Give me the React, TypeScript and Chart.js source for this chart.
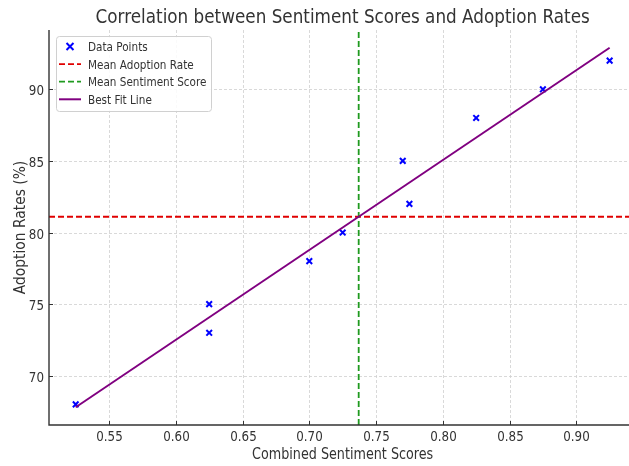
import React, { useEffect, useRef } from "react";
import { Chart, registerables } from "chart.js";

Chart.register(...registerables);

const sentimentScores = [0.525, 0.625, 0.625, 0.7, 0.725, 0.77, 0.775, 0.825, 0.875, 0.925];
const adoptionRates = [68, 75, 73, 78, 80, 85, 82, 88, 90, 92];
const meanAdoption = 81.1;
const meanSentiment = 0.737;
const fitX = [0.525, 0.925];
const fitY = [67.8, 92.9];
const xTicks = [0.55, 0.6, 0.65, 0.7, 0.75, 0.8, 0.85, 0.9];
const yTicks = [70, 75, 80, 85, 90];
const xRange = [0.505, 0.9395];
const yRange = [66.56, 94.14];

const TITLE = "Correlation between Sentiment Scores and Adoption Rates";
const X_LABEL = "Combined Sentiment Scores";
const Y_LABEL = "Adoption Rates (%)";

const TEXT = "#333333";
const FONT = '"DejaVu Sans", sans-serif';
const SX = 0.85;

function drawText(
  ctx: CanvasRenderingContext2D,
  text: string,
  x: number,
  y: number,
  size: number,
  align: CanvasTextAlign,
  rotate = 0
) {
  ctx.save();
  ctx.translate(x, y);
  if (rotate) ctx.rotate(rotate);
  ctx.scale(SX, 1);
  ctx.font = `${size}px ${FONT}`;
  ctx.textAlign = align;
  ctx.textBaseline = "alphabetic";
  ctx.fillStyle = TEXT;
  ctx.fillText(text, 0, 0);
  ctx.restore();
}

const decorPlugin = {
  id: "decor",
  beforeDatasetsDraw(chart: any) {
    const { ctx, chartArea } = chart;
    const xs = chart.scales.x;
    const ys = chart.scales.y;
    ctx.save();
    ctx.strokeStyle = "#cfcfcf";
    ctx.lineWidth = 0.8;
    ctx.setLineDash([3, 2]);
    xTicks.forEach((v) => {
      const px = Math.round(xs.getPixelForValue(v)) + 0.5;
      ctx.beginPath();
      ctx.moveTo(px, chartArea.top);
      ctx.lineTo(px, chartArea.bottom);
      ctx.stroke();
    });
    yTicks.forEach((v) => {
      const py = Math.round(ys.getPixelForValue(v)) + 0.5;
      ctx.beginPath();
      ctx.moveTo(chartArea.left, py);
      ctx.lineTo(chartArea.right, py);
      ctx.stroke();
    });
    ctx.restore();
  },
  afterDatasetsDraw(chart: any) {
    const { ctx, chartArea } = chart;
    const xs = chart.scales.x;
    const ys = chart.scales.y;
    ctx.save();
    // spines
    ctx.strokeStyle = "#333333";
    ctx.lineWidth = 1.4;
    ctx.setLineDash([]);
    ctx.beginPath();
    ctx.moveTo(chartArea.left, chartArea.top);
    ctx.lineTo(chartArea.left, chartArea.bottom);
    ctx.lineTo(chartArea.right, chartArea.bottom);
    ctx.stroke();
    // inward ticks
    ctx.lineWidth = 1;
    xTicks.forEach((v) => {
      const px = Math.round(xs.getPixelForValue(v)) + 0.5;
      ctx.beginPath();
      ctx.moveTo(px, chartArea.bottom);
      ctx.lineTo(px, chartArea.bottom - 4);
      ctx.stroke();
      drawText(ctx, v.toFixed(2), px, chartArea.bottom + 16, 14, "center");
    });
    yTicks.forEach((v) => {
      const py = Math.round(ys.getPixelForValue(v)) + 0.5;
      ctx.beginPath();
      ctx.moveTo(chartArea.left, py);
      ctx.lineTo(chartArea.left + 4, py);
      ctx.stroke();
      drawText(ctx, String(v), chartArea.left - 5, py + 5, 14, "right");
    });
    ctx.restore();

    // titles
    const cx = xs.getPixelForValue((xRange[0] + 0.945) / 2);
    drawText(ctx, TITLE, cx, 22.7, 19.8, "center");
    drawText(ctx, X_LABEL, cx, chartArea.bottom + 33.5, 15, "center");
    drawText(ctx, Y_LABEL, 25, (chartArea.top + chartArea.bottom) / 2, 16.3, "center", -Math.PI / 2);

    // legend
    const lx = chartArea.left + 7;
    const ly = chartArea.top + 6;
    const lw = 155;
    const lh = 75;
    ctx.save();
    ctx.fillStyle = "rgba(255,255,255,0.85)";
    ctx.strokeStyle = "#d0d0d0";
    ctx.lineWidth = 1;
    ctx.beginPath();
    (ctx as any).roundRect(lx + 0.5, ly + 0.5, lw, lh, 3);
    ctx.fill();
    ctx.stroke();
    const dsList = chart.data.datasets;
    const rowOrder = ["Data Points", "Mean Adoption Rate", "Mean Sentiment Score", "Best Fit Line"];
    rowOrder.forEach((label, i) => {
      const ds = dsList.find((d: any) => d.label === label);
      const rowY = ly + 10.5 + i * 17.6;
      const hx0 = lx + 3;
      const hx1 = lx + 25;
      if (ds.type === "scatter") {
        const mx = (hx0 + hx1) / 2;
        const r = 3.5;
        ctx.strokeStyle = ds.borderColor;
        ctx.lineWidth = 2;
        ctx.setLineDash([]);
        ctx.beginPath();
        ctx.moveTo(mx - r, rowY - r);
        ctx.lineTo(mx + r, rowY + r);
        ctx.moveTo(mx - r, rowY + r);
        ctx.lineTo(mx + r, rowY - r);
        ctx.stroke();
      } else {
        ctx.strokeStyle = ds.borderColor;
        ctx.lineWidth = ds.borderWidth;
        ctx.setLineDash(ds.borderDash || []);
        ctx.beginPath();
        ctx.moveTo(hx0, rowY);
        ctx.lineTo(hx1, rowY);
        ctx.stroke();
      }
      ctx.setLineDash([]);
      drawText(ctx, label, lx + 32, rowY + 4.5, 12.3, "left");
    });
    ctx.restore();
  },
};

export default function App() {
  const canvasRef = useRef<HTMLCanvasElement | null>(null);

  useEffect(() => {
    if (!canvasRef.current) return;
    const scatterData = sentimentScores.map((x, i) => ({ x, y: adoptionRates[i] }));
    const fitData = fitX.map((x, i) => ({ x, y: fitY[i] }));
    const chart = new Chart(canvasRef.current, {
      type: "scatter",
      data: {
        datasets: [
          {
            type: "line",
            label: "Best Fit Line",
            data: fitData,
            borderColor: "#800080",
            borderWidth: 2,
            pointRadius: 0,
            fill: false,
            order: 0,
          } as any,
          {
            type: "line",
            label: "Mean Sentiment Score",
            data: [
              { x: meanSentiment, y: yRange[0] },
              { x: meanSentiment, y: yRange[1] },
            ],
            borderColor: "#1f9a1f",
            borderWidth: 1.8,
            borderDash: [6, 3],
            pointRadius: 0,
            fill: false,
            order: 1,
          },
          {
            type: "line",
            label: "Mean Adoption Rate",
            data: [
              { x: xRange[0], y: meanAdoption },
              { x: xRange[1], y: meanAdoption },
            ],
            borderColor: "#e00000",
            borderWidth: 1.8,
            borderDash: [6, 3],
            pointRadius: 0,
            fill: false,
            order: 2,
          },
          {
            type: "scatter",
            label: "Data Points",
            data: scatterData,
            pointStyle: "crossRot",
            pointRadius: 4,
            borderColor: "#0000ff",
            backgroundColor: "#0000ff",
            borderWidth: 2,
            order: 3,
          },
        ],
      },
      options: {
        animation: false,
        responsive: false,
        maintainAspectRatio: false,
        layout: { autoPadding: false, padding: { top: 30, left: 0, right: 0, bottom: 0 } },
        plugins: {
          legend: { display: false },
          title: { display: false },
          tooltip: { enabled: false },
        },
        scales: {
          x: {
            type: "linear",
            min: xRange[0],
            max: xRange[1],
            grid: { display: false },
            border: { display: false },
            ticks: { display: false },
            afterBuildTicks: (scale: any) => {
              scale.ticks = xTicks.map((value) => ({ value }));
            },
            afterFit: (scale: any) => {
              scale.height = 41;
            },
          },
          y: {
            type: "linear",
            min: yRange[0],
            max: yRange[1],
            grid: { display: false },
            border: { display: false },
            ticks: { display: false },
            afterBuildTicks: (scale: any) => {
              scale.ticks = yTicks.map((value) => ({ value }));
            },
            afterFit: (scale: any) => {
              scale.width = 49;
            },
          },
        },
      },
      plugins: [decorPlugin],
    });
    return () => chart.destroy();
  }, []);

  return (
    <div style={{ position: "absolute", left: 0, top: 0, width: 629, height: 466, background: "#fff" }}>
      <canvas ref={canvasRef} width={629} height={466} style={{ width: 629, height: 466 }} />
    </div>
  );
}
